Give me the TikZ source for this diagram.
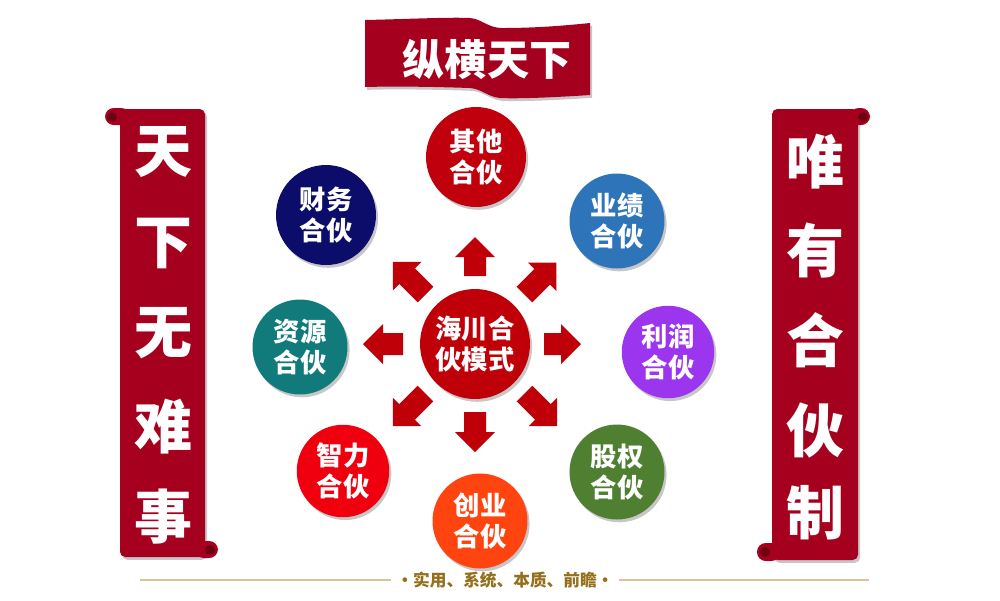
\documentclass[tikz,border=0pt]{standalone}
\usepackage{fontspec}
\newfontfamily\cjk{Noto Sans CJK SC}
\usetikzlibrary{shadows}
\definecolor{scrollred}{HTML}{A6001F}
\definecolor{curlred}{HTML}{6E0012}
\definecolor{arrowred}{HTML}{C00008}
\definecolor{cQita}{HTML}{C0000C}
\definecolor{cCaiwu}{HTML}{0C0C6A}
\definecolor{cYeji}{HTML}{2E74B8}
\definecolor{cZiyuan}{HTML}{117A7A}
\definecolor{cHub}{HTML}{C00008}
\definecolor{cLirun}{HTML}{9B35EE}
\definecolor{cZhili}{HTML}{F0000E}
\definecolor{cChuangye}{HTML}{FF4410}
\definecolor{cGuquan}{HTML}{4F7F30}
\definecolor{goldtext}{HTML}{94701C}
\definecolor{goldline}{HTML}{D9C496}
\begin{document}
\begin{tikzpicture}[x=0.02cm,y=-0.02cm,
  softshadow/.style={drop shadow={opacity=0.22,shadow xshift=1.2pt,shadow yshift=-1.6pt,fill=black}},
  circ/.style={circle,text=white,align=center,inner sep=0pt,softshadow,
    font=\cjk\bfseries\fontsize{15}{18}\selectfont},
  scrolltext/.style={text=white,inner sep=0pt,font=\cjk\bfseries\fontsize{33}{33}\selectfont},
  bannertext/.style={text=white,inner sep=0pt,font=\cjk\bfseries\fontsize{24}{24}\selectfont},
  mottotext/.style={text=goldtext,inner sep=3pt,font=\cjk\bfseries\fontsize{9.5}{10}\selectfont},
  blockarrow/.style={fill=arrowred},
  rule/.style={draw=goldline,line width=0.6pt}]
\useasboundingbox (0,0) rectangle (1000,600);
\fill[white] (0,0) rectangle (1000,600);

% ---- top banner
\fill[scrollred,softshadow] (365,20) .. controls (410,19) and (450,17) .. (470,18)
  .. controls (482,19) and (488,28) .. (502,28)
  .. controls (540,28) and (570,25) .. (590,23) -- (590,95)
  .. controls (560,97) and (520,99) .. (500,98)
  .. controls (488,97) and (482,89) .. (470,88)
  .. controls (440,87) and (400,86) .. (365,87) -- cycle;
\node[bannertext] (title) at (487,60) {纵横天下};

% ---- left scroll
\fill[scrollred,softshadow,rounded corners=3pt] (120,109) rectangle (205,557);
\fill[scrollred,rounded corners=5pt] (105,108) rectangle (130,125);
\fill[curlred] (112,117) circle (5);
\fill[scrollred,rounded corners=5pt] (195,541) rectangle (218,558);
\fill[curlred] (210,550) circle (5);
\node[scrolltext] (l1) at (163,152) {天};
\node[scrolltext] (l2) at (163,243) {下};
\node[scrolltext] (l3) at (163,333) {无};
\node[scrolltext] (l4) at (163,427) {难};
\node[scrolltext] (l5) at (163,517) {事};

% ---- right scroll
\fill[scrollred,softshadow,rounded corners=3pt] (772,109) rectangle (858,560);
\fill[scrollred,rounded corners=5pt] (850,108) rectangle (870,125);
\fill[curlred] (863,117) circle (5);
\fill[scrollred,rounded corners=5pt] (757,543) rectangle (780,561);
\fill[curlred] (765,552) circle (5);
\node[scrolltext] (r1) at (815,162) {唯};
\node[scrolltext] (r2) at (815,250) {有};
\node[scrolltext] (r3) at (815,340) {合};
\node[scrolltext] (r4) at (815,430) {伙};
\node[scrolltext] (r5) at (815,513) {制};

% ---- hub and partner circles
\node[circ,fill=cHub,minimum size=2.2cm] (hub) at (475,344) {海川合\\伙模式};
\node[circ,fill=cQita,minimum size=2.0cm] (qita) at (476,157) {其他\\合伙};
\node[circ,fill=cCaiwu,minimum size=2.0cm] (caiwu) at (326,215) {财务\\合伙};
\node[circ,fill=cYeji,minimum size=1.9cm] (yeji) at (617,221) {业绩\\合伙};
\node[circ,fill=cZiyuan,minimum size=1.9cm] (ziyuan) at (300,347) {资源\\合伙};
\node[circ,fill=cLirun,minimum size=1.85cm] (lirun) at (668,352) {利润\\合伙};
\node[circ,fill=cZhili,minimum size=1.85cm] (zhili) at (343,471) {智力\\合伙};
\node[circ,fill=cChuangye,minimum size=1.9cm] (chuangye) at (480,521) {创业\\合伙};
\node[circ,fill=cGuquan,minimum size=1.9cm] (guquan) at (617,472) {股权\\合伙};

% ---- block arrows around the hub
\foreach \ang/\ra/\rb in {0/69/106,90/68/107,180/72/112,270/68/108,45/70/115,135/70/116,225/70/116,315/70/116}
  \fill[blockarrow,shift={(hub.center)},rotate=\ang]
    (\ra,-11) -- (\rb-20,-11) -- (\rb-20,-20) -- (\rb,0) -- (\rb-20,20) -- (\rb-20,11) -- (\ra,11) -- cycle;

% ---- bottom motto
\node[mottotext] (motto) at (505,580) {·实用、系统、本质、前瞻·};
\coordinate (ruleL) at (140,580);
\coordinate (ruleR) at (869,580);
\draw[rule] (ruleL) -- (motto.west);
\draw[rule] (motto.east) -- (ruleR);
\end{tikzpicture}
\end{document}
